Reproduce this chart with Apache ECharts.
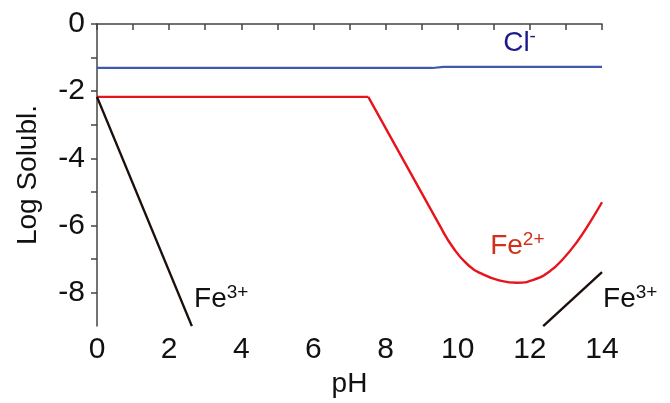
<!DOCTYPE html>
<html>
<head>
<meta charset="utf-8">
<script src="https://cdn.jsdelivr.net/npm/echarts@6/dist/echarts.min.js"></script>
<style>
  html, body { margin: 0; padding: 0; background: #fff; }
  #chart { width: 670px; height: 403px; }
</style>
</head>
<body>
<div id="chart"></div>
<script>
/* data: [pH, log solubility] */
var clData = [[0, -1.31], [9.3, -1.31], [9.6, -1.28], [14, -1.28]];
var fe2Flat = [[0, -2.17], [7.52, -2.17]];
var fe2Curve = [
    [7.52, -2.17], [9.5, -6.0], [9.87, -6.66], [10.26, -7.15], [10.7, -7.46],
    [11.2, -7.65], [11.65, -7.71], [12.1, -7.62], [12.56, -7.36],
    [12.92, -7.0], [13.3, -6.5], [13.67, -5.9], [14.0, -5.31]
];
var fe3Left = [[0, -2.17], [2.63, -9]];
var fe3Right = [[12.37, -9], [14, -7.39]];

var xTicks = [0, 2, 4, 6, 8, 10, 12, 14];
var yTicks = [0, -2, -4, -6, -8];

// label anchors (left / middle of text)
var labels = [
    {value: [11.26, -0.56], name: 'Cl', sup: '-', color: '#1a1a8a'},
    {value: [10.9, -6.62], name: 'Fe', sup: '2+', color: '#d2301a'},
    {value: [2.69, -8.19], name: 'Fe', sup: '3+', color: '#111'},
    {value: [14.03, -8.19], name: 'Fe', sup: '3+', color: '#111'}
];

var axisColor = '#444';
var fontFam = 'Liberation Sans, Arial, sans-serif';

var option = {
    backgroundColor: '#fff',
    animation: false,
    grid: {left: 97, right: 68, top: 24, bottom: 76},
    xAxis: {
        type: 'value',
        min: 0,
        max: 14,
        interval: 1,
        name: 'pH',
        nameLocation: 'middle',
        nameGap: 40,
        nameTextStyle: {color: '#111', fontSize: 28, fontFamily: fontFam},
        axisLine: {lineStyle: {color: axisColor, width: 1.5}},
        axisTick: {show: true, inside: false, length: 6, lineStyle: {color: axisColor, width: 1.5}},
        axisLabel: {
            color: '#111', fontSize: 30, fontFamily: fontFam, margin: 9,
            formatter: function (v) { return xTicks.indexOf(v) >= 0 ? String(v) : ''; }
        },
        splitLine: {show: false}
    },
    yAxis: {
        type: 'value',
        min: -9,
        max: 0,
        interval: 1,
        name: 'Log Solubl.',
        nameLocation: 'middle',
        nameGap: 55,
        nameTextStyle: {color: '#111', fontSize: 28, fontFamily: fontFam},
        axisLine: {show: true, lineStyle: {color: axisColor, width: 1.5}},
        axisTick: {show: true, inside: false, length: 6, lineStyle: {color: axisColor, width: 1.5}},
        axisLabel: {
            color: '#111', fontSize: 30, fontFamily: fontFam, margin: 12,
            showMinLabel: false,
            formatter: function (v) { return yTicks.indexOf(v) >= 0 ? String(v) : ''; }
        },
        splitLine: {show: false}
    },
    series: [
        {
            name: 'Cl-', type: 'line', data: clData, symbol: 'none',
            lineStyle: {color: '#3f5ba8', width: 2.2}
        },
        {
            name: 'Fe2+ flat', type: 'line', data: fe2Flat, symbol: 'none',
            lineStyle: {color: '#e8141b', width: 2.4}
        },
        {
            name: 'Fe2+', type: 'line', data: fe2Curve, symbol: 'none', smooth: 0.5,
            lineStyle: {color: '#e8141b', width: 2.4}
        },
        {
            name: 'Fe3+ a', type: 'line', data: fe3Left, symbol: 'none',
            lineStyle: {color: '#1a0f0a', width: 2.4}
        },
        {
            name: 'Fe3+ b', type: 'line', data: fe3Right, symbol: 'none',
            lineStyle: {color: '#1a0f0a', width: 2.4}
        },
        {
            name: 'labels', type: 'scatter', symbolSize: 0, clip: false,
            itemStyle: {opacity: 1},
            data: labels.map(function (d) {
                return {
                    value: d.value,
                    label: {
                        formatter: '{m|' + d.name + '}{s|' + d.sup + '}',
                        rich: {
                            m: {fontSize: 28, color: d.color, fontFamily: fontFam, lineHeight: 32},
                            s: {fontSize: 19, color: d.color, fontFamily: fontFam, lineHeight: 22, verticalAlign: 'top'}
                        }
                    }
                };
            }),
            label: {show: true, position: 'right', distance: 0, align: 'left', verticalAlign: 'middle'}
        }
    ]
};

var chart = echarts.init(document.getElementById('chart'));
chart.setOption(option);
</script>
</body>
</html>
